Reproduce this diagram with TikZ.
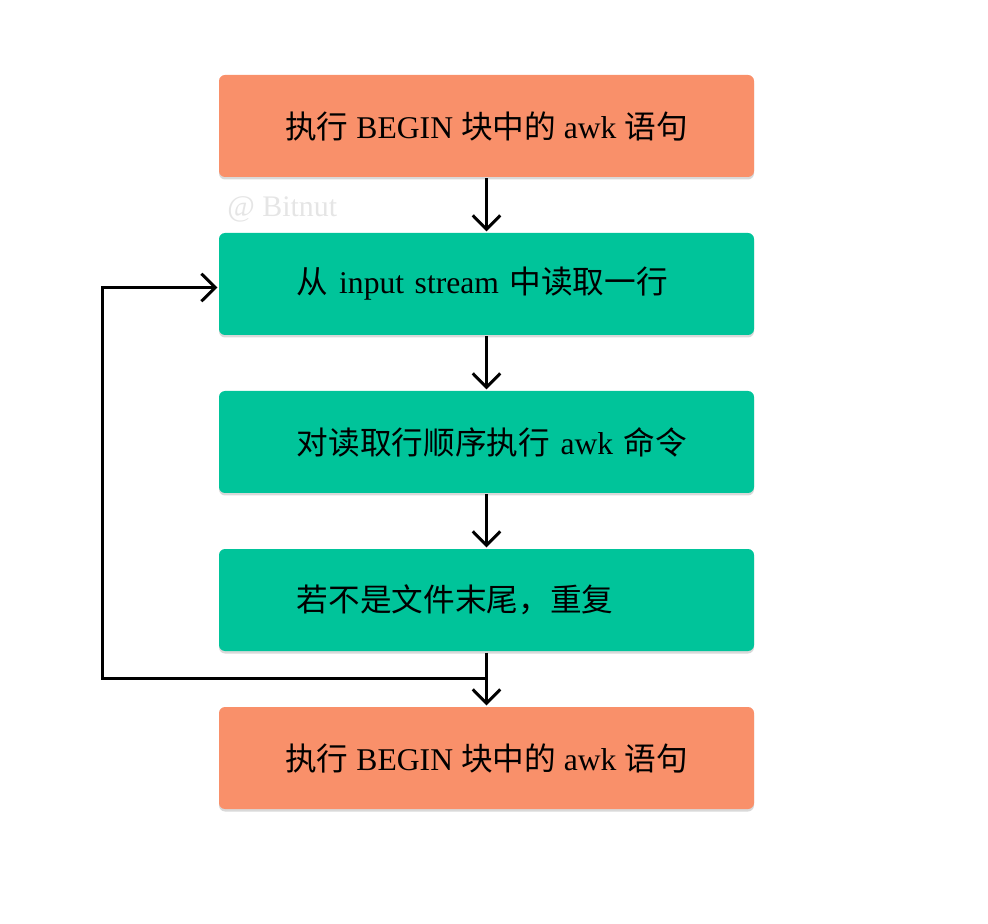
\documentclass[tikz,border=0pt]{standalone}
\usepackage{fontspec}
\setmainfont{Liberation Serif}
\newfontfamily\cjk{Noto Sans CJK SC}
\usepackage{tikz}
\usetikzlibrary{positioning, arrows.meta, shadows}
\definecolor{beginorange}{HTML}{F9906A}
\definecolor{loopgreen}{HTML}{00C49A}

\begin{document}
\begin{tikzpicture}[node distance=3.16cm, on grid, >={Straight Barb[length=0.28cm,width=0.55cm]}, line width=0.06cm,
    box/.style={rounded corners=0.12cm, minimum width=10.7cm, minimum height=2.04cm, font=\fontsize{18}{22}\selectfont,
      drop shadow={shadow xshift=0cm, shadow yshift=-0.05cm, opacity=0.3}},
    endbox/.style={box, fill=beginorange, align=center},
    loopbox/.style={box, fill=loopgreen, text width=9.14cm, inner xsep=0pt, align=left,
      execute at begin node={\hspace*{0.78cm}}},
    wmark/.style={text=black!10, font=\fontsize{17}{20}\selectfont}]
      \useasboundingbox (0,0) rectangle (19.76,-18.48);
      \node[endbox] (1) at (9.73,-2.52) {{\cjk 执行} BEGIN {\cjk 块中的} awk {\cjk 语句}};
      \node[loopbox, below=of 1] (2) {{\cjk 从} input stream {\cjk 中读取一行}};
      \node[loopbox, below=of 2] (3) {{\cjk 对读取行顺序执行} awk {\cjk 命令}};
      \node[loopbox, below=of 3] (4) {{\cjk 若不是文件末尾，重复}};
      \node[endbox, below=of 4] (5) {{\cjk 执行} BEGIN {\cjk 块中的} awk {\cjk 语句}};
      \node[wmark, anchor=west] (w) at ([shift={(0.05,-0.62)}]1.south west) {@ Bitnut};
      \coordinate[below=0.52cm of 4.south] (j);
      \draw[->] (1) -- (2);
      \draw[->] (2) -- (3);
      \draw[->] (3) -- (4);
      \draw[->] (4) -- (5);
      \draw[->] (j) -| ([xshift=-2.3cm, yshift=-0.07cm]2.west) -- ([yshift=-0.07cm]2.west);
    \end{tikzpicture}
\end{document}
